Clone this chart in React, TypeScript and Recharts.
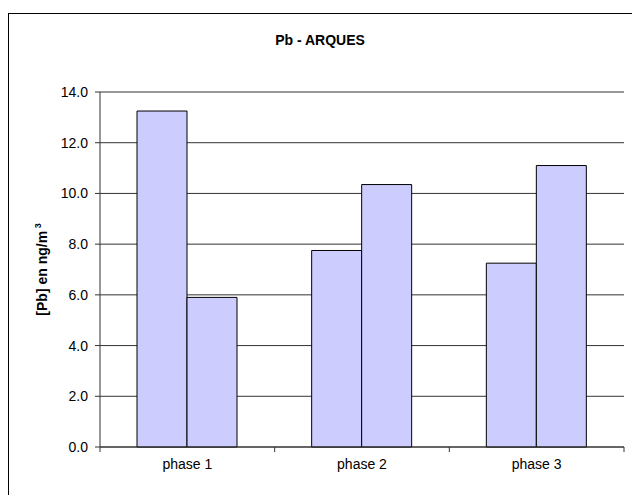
import { BarChart, Bar, XAxis, YAxis, CartesianGrid } from "recharts";

const phases = ["phase 1", "phase 2", "phase 3"];
const seriesA = [13.25, 7.75, 7.25];
const seriesB = [5.9, 10.35, 11.1];
const yTicks = [0, 2, 4, 6, 8, 10, 12, 14];

const data = phases.map((phase, i) => ({ phase, a: seriesA[i], b: seriesB[i] }));

const FONT = "'Liberation Sans', Arial, sans-serif";

function PhaseTick(props: any) {
  const { x, y, payload, index } = props;
  const half = payload?.offset ?? 87;
  return (
    <g>
      <line x1={x - half} y1={y - 8} x2={x - half} y2={y - 3} stroke="#333" />
      {index === phases.length - 1 && (
        <line x1={x + half} y1={y - 8} x2={x + half} y2={y - 3} stroke="#333" />
      )}
      <text x={x} y={y + 14} textAnchor="middle" fontSize={14} fill="#000" fontFamily={FONT}>
        {payload.value}
      </text>
    </g>
  );
}

function YTitle(props: any) {
  const vb = props.viewBox || { y: 92, height: 355 };
  const cy = vb.y + vb.height / 2;
  return (
    <text
      x={47}
      y={cy}
      transform={`rotate(-90, 47, ${cy})`}
      textAnchor="middle"
      fontSize={14}
      fontWeight="bold"
      fill="#000"
      fontFamily={FONT}
    >
      [Pb] en ng/m<tspan fontSize={9} dy={-6}> 3</tspan>
    </text>
  );
}

export default function App() {
  return (
    <div
      style={{
        position: "absolute",
        left: 0,
        top: 0,
        width: 632,
        height: 495,
        overflow: "hidden",
        background: "#fff",
        fontFamily: FONT,
      }}
    >
      <div
        style={{
          position: "absolute",
          left: 8,
          top: 13,
          width: 700,
          height: 600,
          border: "1px solid #000",
        }}
      />
      <div
        style={{
          position: "absolute",
          left: 0,
          width: 640,
          top: 32,
          textAlign: "center",
          fontSize: 14,
          fontWeight: "bold",
        }}
      >
        Pb - ARQUES
      </div>
      <div style={{ position: "absolute", left: 0, top: 0 }}>
        <BarChart
          width={632}
          height={495}
          data={data}
          margin={{ top: 92, right: 8, bottom: 0, left: 0 }}
          barCategoryGap={37}
          barGap={0}
        >
          <CartesianGrid vertical={false} stroke="#333" />
          <XAxis
            dataKey="phase"
            tickLine={false}
            axisLine={{ stroke: "#333" }}
            tick={<PhaseTick />}
            interval={0}
            height={48}
          />
          <XAxis xAxisId="top" orientation="top" dataKey="phase" tick={false} tickLine={false} axisLine={{ stroke: "#999" }} height={0} />
          <YAxis
            domain={[0, 14]}
            ticks={yTicks}
            interval={0}
            width={100}
            tickSize={5}
            tickMargin={7}
            tickLine={{ stroke: "#333" }}
            axisLine={{ stroke: "#333" }}
            tick={{ fill: "#000", fontSize: 14, fontFamily: FONT }}
            tickFormatter={(v: number) => v.toFixed(1)}
            label={<YTitle />}
          />
          <YAxis yAxisId="right" orientation="right" width={0} tick={false} tickLine={false} axisLine={{ stroke: "#999" }} domain={[0, 14]} />
          <Bar dataKey="a" fill="#CCCCFF" stroke="#000" strokeWidth={1} isAnimationActive={false} />
          <Bar dataKey="b" fill="#CCCCFF" stroke="#000" strokeWidth={1} isAnimationActive={false} />
        </BarChart>
      </div>
    </div>
  );
}
